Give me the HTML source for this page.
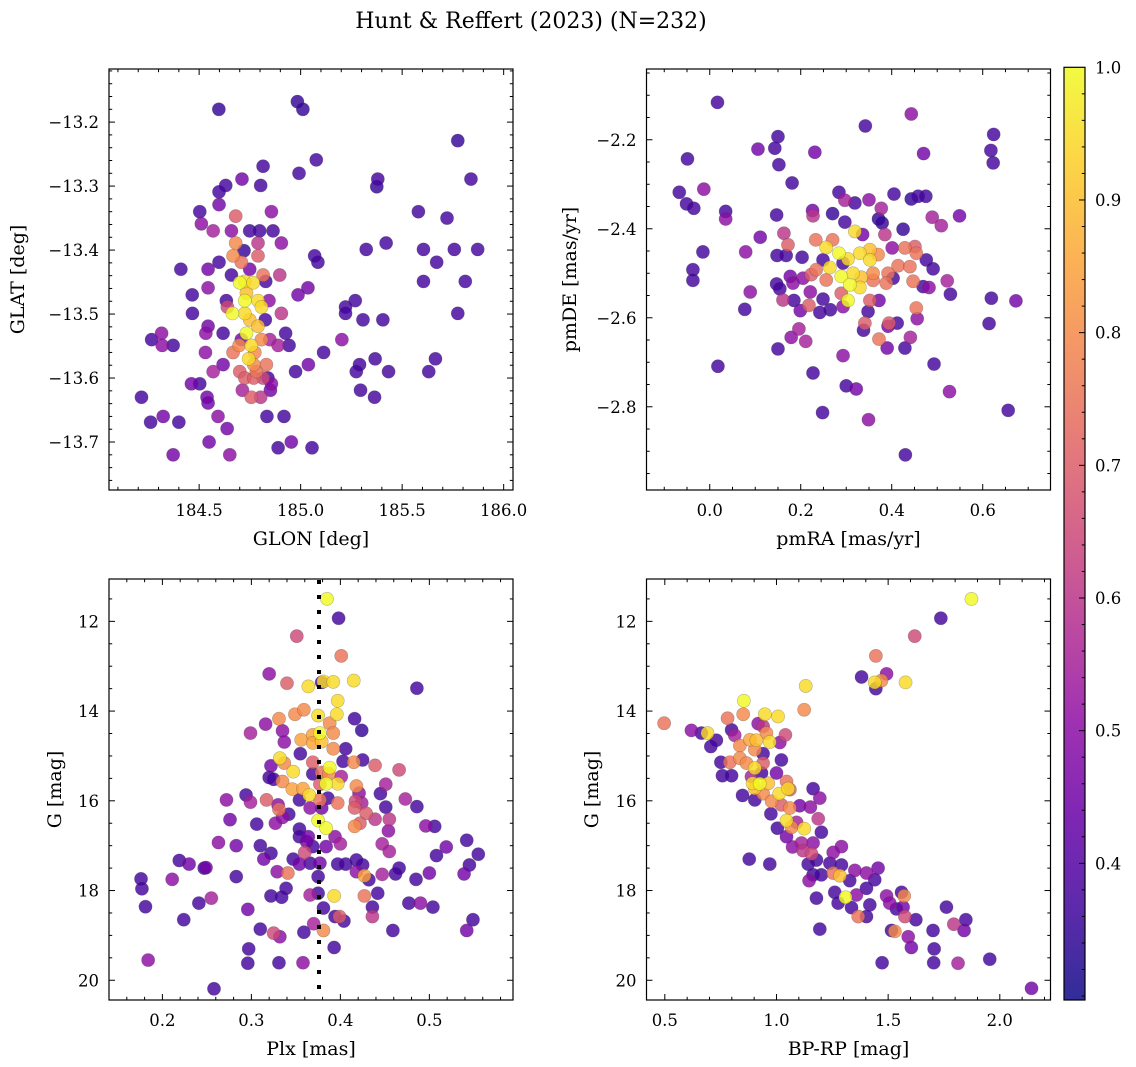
<!DOCTYPE html>
<html><head><meta charset="utf-8"><title>Hunt & Reffert (2023)</title>
<style>
html,body{margin:0;padding:0;background:#fff;}
svg{display:block;font-family:"DejaVu Serif","Liberation Serif",serif;}
</style></head>
<body>
<svg id="fig" width="1136" height="1067" viewBox="0 0 1136 1067" xmlns="http://www.w3.org/2000/svg">
<rect width="1136" height="1067" fill="#fff"/>
<text x="531" y="28" text-anchor="middle" font-size="22">Hunt &amp; Reffert (2023) (N=232)</text>
</svg>
<script>
// ---------- Panel 1: GLON vs GLAT ----------
const p1X=[184.597,184.984,185.011,185.774,185.077,184.815,184.992,185.380,185.375,185.839,184.711,184.631,184.598,184.803,184.598,184.503,184.856,185.580,185.721,184.511,184.569,184.680,184.659,184.749,184.798,184.864,184.905,184.790,184.680,184.667,184.721,184.708,184.790,185.069,185.085,185.323,185.421,185.605,185.757,185.872,185.670,184.410,184.544,184.598,184.659,184.749,184.815,184.897,184.828,184.725,184.700,184.766,184.544,185.036,184.987,185.605,185.811,184.466,184.634,184.725,184.790,184.844,184.639,184.807,184.733,184.467,184.664,184.725,184.905,184.826,184.749,184.790,185.221,185.221,185.269,185.307,185.405,185.774,184.544,184.533,184.618,184.733,184.926,184.315,184.266,184.318,184.372,184.708,184.807,184.848,184.889,184.943,184.757,184.667,184.697,184.774,184.531,185.113,185.203,184.744,184.769,184.831,184.618,184.569,184.700,184.782,184.975,185.038,185.290,185.274,185.367,185.433,185.664,185.631,184.725,184.769,184.815,184.839,184.462,184.503,184.856,184.713,184.757,184.803,184.851,184.539,184.544,184.216,185.295,185.364,184.261,184.323,184.400,184.593,184.834,184.918,184.638,184.549,184.954,184.889,185.056,184.372,184.651];
const p1Y=[-13.180,-13.168,-13.180,-13.229,-13.259,-13.269,-13.280,-13.289,-13.301,-13.289,-13.289,-13.299,-13.309,-13.299,-13.329,-13.340,-13.340,-13.340,-13.350,-13.359,-13.370,-13.347,-13.370,-13.370,-13.370,-13.370,-13.389,-13.389,-13.389,-13.409,-13.401,-13.419,-13.409,-13.409,-13.419,-13.399,-13.389,-13.399,-13.399,-13.399,-13.419,-13.430,-13.430,-13.419,-13.439,-13.430,-13.439,-13.439,-13.449,-13.449,-13.451,-13.451,-13.459,-13.459,-13.470,-13.449,-13.449,-13.470,-13.479,-13.479,-13.479,-13.479,-13.489,-13.489,-13.467,-13.499,-13.499,-13.499,-13.499,-13.509,-13.509,-13.519,-13.489,-13.499,-13.479,-13.509,-13.509,-13.499,-13.519,-13.530,-13.530,-13.530,-13.530,-13.530,-13.540,-13.549,-13.549,-13.540,-13.540,-13.540,-13.549,-13.549,-13.549,-13.560,-13.549,-13.560,-13.560,-13.560,-13.540,-13.570,-13.579,-13.579,-13.579,-13.590,-13.590,-13.590,-13.590,-13.579,-13.579,-13.590,-13.570,-13.590,-13.570,-13.590,-13.600,-13.600,-13.600,-13.600,-13.609,-13.609,-13.609,-13.619,-13.630,-13.630,-13.619,-13.630,-13.639,-13.630,-13.619,-13.630,-13.669,-13.660,-13.669,-13.660,-13.660,-13.660,-13.679,-13.700,-13.700,-13.709,-13.709,-13.720,-13.720];
const p1P=[.35,.35,.35,.35,.37,.37,.37,.37,.35,.37,.45,.37,.37,.37,.45,.37,.5,.37,.37,.5,.55,.7,.5,.37,.37,.37,.5,.6,.8,.8,.35,.75,.7,.37,.37,.37,.37,.37,.37,.37,.37,.37,.45,.37,.37,.45,.75,.6,.37,.95,1,.95,.5,.45,.45,.37,.37,.37,.37,1,.95,.5,.65,.95,.9,.37,1,.95,.6,.37,.9,.9,.37,.37,.37,.37,.37,.37,.45,.5,.37,1,.37,.5,.37,.5,.37,.45,.8,.55,.55,.37,.95,.75,.8,.8,.5,.37,.5,.95,.8,.75,.45,.55,.7,.75,.37,.45,.37,.37,.37,.37,.37,.37,.7,.7,.65,.37,.45,.37,.5,.55,.7,.6,.45,.45,.45,.37,.37,.37,.37,.45,.37,.5,.37,.37,.45,.45,.45,.37,.37,.45,.5];
const p1XTicks=[184.5,185.0,185.5,186.0];
const p1YTicks=[-13.2,-13.3,-13.4,-13.5,-13.6,-13.7];

// ---------- Panel 2: pmRA vs pmDE ----------
const p2X=[0.017,0.443,0.342,0.624,0.150,0.106,0.143,0.231,0.470,0.618,0.623,-0.049,0.152,0.181,-0.067,-0.013,-0.051,-0.035,0.035,0.035,0.284,0.297,0.319,0.350,0.405,0.443,0.458,0.475,0.377,0.147,0.226,0.227,0.270,0.371,0.379,0.489,0.509,0.549,0.297,0.319,0.425,0.385,0.336,0.111,0.163,0.172,0.233,0.270,0.256,0.284,0.304,0.330,0.352,0.352,0.370,0.401,0.429,0.451,0.454,-0.015,0.079,0.148,0.168,0.203,0.234,0.264,0.249,0.293,0.315,0.289,0.333,0.359,0.392,0.414,0.440,0.476,0.491,-0.037,-0.037,0.177,0.147,0.154,0.183,0.205,0.223,0.256,0.308,0.330,0.359,0.388,0.447,0.403,0.469,0.482,0.522,0.529,0.089,0.221,0.249,0.265,0.218,0.242,0.199,0.185,0.161,0.077,0.289,0.304,0.293,0.352,0.372,0.348,0.619,0.673,0.341,0.338,0.394,0.412,0.454,0.456,0.392,0.196,0.179,0.211,0.372,0.441,0.150,0.390,0.429,0.614,0.293,0.493,0.018,0.227,0.300,0.322,0.527,0.248,0.349,0.656,0.430];
const p2Y=[-2.116,-2.142,-2.169,-2.188,-2.193,-2.221,-2.219,-2.228,-2.231,-2.224,-2.252,-2.243,-2.256,-2.297,-2.318,-2.311,-2.344,-2.354,-2.361,-2.378,-2.318,-2.336,-2.342,-2.335,-2.322,-2.333,-2.327,-2.327,-2.354,-2.369,-2.359,-2.371,-2.366,-2.378,-2.387,-2.374,-2.393,-2.371,-2.385,-2.406,-2.401,-2.413,-2.413,-2.419,-2.410,-2.436,-2.425,-2.425,-2.442,-2.455,-2.468,-2.455,-2.447,-2.470,-2.458,-2.443,-2.443,-2.440,-2.455,-2.452,-2.452,-2.460,-2.460,-2.464,-2.492,-2.487,-2.470,-2.477,-2.500,-2.507,-2.509,-2.500,-2.500,-2.483,-2.485,-2.470,-2.490,-2.492,-2.516,-2.507,-2.524,-2.535,-2.522,-2.511,-2.503,-2.515,-2.526,-2.532,-2.516,-2.522,-2.518,-2.511,-2.530,-2.532,-2.517,-2.547,-2.542,-2.542,-2.558,-2.582,-2.572,-2.588,-2.584,-2.561,-2.560,-2.581,-2.545,-2.561,-2.575,-2.561,-2.561,-2.586,-2.556,-2.562,-2.612,-2.628,-2.612,-2.612,-2.578,-2.602,-2.619,-2.625,-2.644,-2.653,-2.648,-2.644,-2.670,-2.668,-2.668,-2.613,-2.685,-2.704,-2.709,-2.724,-2.753,-2.760,-2.766,-2.813,-2.829,-2.808,-2.908];
const p2P=[.37,.5,.37,.37,.37,.45,.37,.45,.45,.37,.37,.37,.37,.37,.37,.5,.37,.37,.37,.5,.37,.55,.37,.5,.37,.35,.37,.37,.55,.37,.45,.6,.35,.35,.35,.55,.55,.45,.37,.95,.35,.6,.45,.45,.6,.7,.75,.75,.95,1,.95,.95,.9,.95,.8,.5,.75,.7,.75,.37,.5,.37,.37,.37,.75,.95,.37,.37,.95,1,.9,.8,.75,.75,.75,.37,.37,.37,.37,.45,.37,.37,.5,.5,.7,.75,1,.95,.75,.75,.75,.37,.37,.5,.55,.37,.5,.5,.37,.37,.7,.37,.45,.37,.6,.37,.7,1,.5,.7,.45,.37,.37,.45,.7,.37,.7,.37,.75,.5,.45,.55,.5,.55,.75,.55,.37,.45,.37,.37,.5,.37,.37,.37,.37,.45,.5,.37,.5,.37,.37];
const p2XTicks=[0.0,0.2,0.4,0.6];
const p2YTicks=[-2.2,-2.4,-2.6,-2.8];

// ---------- Panel 3: Plx vs G ----------
const p3X=[0.385,0.398,0.351,0.401,0.320,0.340,0.364,0.379,0.381,0.392,0.415,0.486,0.397,0.375,0.396,0.331,0.349,0.359,0.388,0.416,0.316,0.335,0.299,0.337,0.424,0.356,0.369,0.377,0.392,0.369,0.379,0.392,0.406,0.355,0.332,0.337,0.322,0.369,0.388,0.403,0.415,0.425,0.439,0.466,0.347,0.320,0.325,0.335,0.369,0.379,0.387,0.384,0.397,0.401,0.418,0.451,0.346,0.358,0.365,0.377,0.294,0.421,0.445,0.272,0.299,0.317,0.330,0.354,0.377,0.386,0.397,0.417,0.424,0.473,0.486,0.331,0.342,0.366,0.379,0.416,0.429,0.451,0.276,0.306,0.327,0.335,0.375,0.384,0.416,0.422,0.439,0.455,0.496,0.506,0.354,0.354,0.364,0.394,0.400,0.454,0.263,0.283,0.310,0.322,0.362,0.369,0.384,0.447,0.455,0.519,0.508,0.555,0.542,0.219,0.230,0.247,0.249,0.314,0.347,0.354,0.360,0.366,0.377,0.397,0.406,0.418,0.425,0.418,0.427,0.432,0.466,0.462,0.447,0.485,0.500,0.545,0.539,0.176,0.177,0.211,0.283,0.329,0.341,0.375,0.339,0.322,0.334,0.366,0.375,0.393,0.427,0.442,0.255,0.241,0.181,0.296,0.381,0.436,0.477,0.490,0.504,0.394,0.399,0.404,0.436,0.224,0.549,0.370,0.310,0.325,0.332,0.359,0.381,0.459,0.542,0.393,0.297,0.184,0.296,0.331,0.358,0.258];
const p3Y=[11.50,11.93,12.33,12.77,13.17,13.38,13.45,13.36,13.34,13.35,13.32,13.49,13.77,14.10,14.07,14.17,14.07,13.97,14.27,14.17,14.29,14.44,14.49,14.69,14.43,14.64,14.53,14.49,14.49,14.71,14.68,14.84,14.84,14.95,15.05,15.16,15.22,15.14,15.26,15.12,15.14,15.09,15.21,15.31,15.35,15.48,15.52,15.57,15.40,15.37,15.40,15.62,15.62,15.46,15.67,15.63,15.74,15.73,15.87,15.63,15.87,15.83,15.84,15.98,16.03,15.98,16.09,15.98,15.98,15.94,16.05,16.01,16.05,15.96,16.13,16.19,16.30,16.16,16.16,16.16,16.28,16.14,16.42,16.52,16.50,16.37,16.44,16.61,16.57,16.50,16.41,16.41,16.56,16.57,16.63,16.80,16.80,16.80,16.96,16.67,16.93,17.00,17.00,17.17,16.91,17.02,17.02,16.96,17.13,17.03,17.22,17.19,16.88,17.33,17.41,17.50,17.49,17.30,17.30,17.41,17.15,17.39,17.39,17.41,17.41,17.32,17.43,17.58,17.67,17.76,17.50,17.63,17.64,17.75,17.61,17.43,17.63,17.74,17.96,17.75,17.69,17.58,17.61,17.69,17.95,18.12,18.15,18.10,18.06,18.12,18.12,18.06,18.17,18.28,18.36,18.42,18.39,18.37,18.28,18.28,18.37,18.58,18.58,18.68,18.58,18.65,18.65,18.74,18.86,18.95,19.03,18.93,18.89,18.89,18.89,19.27,19.30,19.55,19.62,19.61,19.61,20.19];
const p3P=[1,.37,.65,.75,.5,.7,.95,.37,.95,.95,.95,.37,.95,.95,.95,.8,.8,.8,.8,.37,.5,.5,.55,.5,.35,.85,.85,1,.8,.85,.9,.8,.37,.37,.95,.8,.45,.7,1,.37,.8,.37,.7,.65,.95,.37,.37,.8,.37,.75,.8,1,.95,.55,.8,.55,.85,.85,.95,.7,.37,.5,.37,.5,.55,.7,.5,.37,.75,.37,.75,.65,.55,.55,.37,.75,.37,.5,.45,.7,.7,.37,.45,.37,.5,.5,1,1,.8,.7,.6,.6,.5,.37,.37,.37,.45,.5,.55,.5,.5,.45,.37,.37,.45,.37,.45,.55,.55,.45,.37,.37,.37,.37,.45,.37,.45,.45,.37,.45,.65,.37,.45,.37,.37,.37,.37,.5,.85,.37,.37,.37,.55,.37,.45,.37,.45,.37,.37,.5,.37,.5,.75,.37,.37,.37,.37,.55,.37,.95,.75,.37,.55,.37,.37,.45,.37,.37,.37,.5,.37,.37,.7,.37,.6,.37,.37,.55,.37,.65,.5,.37,.8,.37,.45,.37,.37,.5,.37,.37,.5];
const p3XTicks=[0.2,0.3,0.4,0.5];
const gTicks=[12,14,16,18,20];
const plxRef=[0.376];

// ---------- Panel 4: BP-RP vs G ----------
const p4X=[1.873,1.736,1.619,1.445,1.381,1.493,1.440,1.470,1.445,1.578,1.131,1.124,0.854,0.851,0.948,1.007,0.781,0.497,0.619,0.664,0.691,0.731,0.706,0.799,0.813,0.918,0.940,0.955,1.040,1.015,0.881,0.910,0.970,0.836,0.903,0.940,1.022,0.751,0.791,0.836,0.866,0.903,0.940,0.758,0.799,0.888,0.933,1.000,0.893,0.925,0.963,1.045,0.903,1.012,1.052,0.940,1.060,0.848,0.903,0.978,1.164,1.194,1.022,1.060,1.104,1.152,0.975,1.045,1.067,1.090,1.187,1.124,1.004,1.201,1.045,1.072,1.112,1.164,1.291,1.119,1.157,1.254,0.878,0.970,1.142,1.179,1.239,1.291,1.351,1.455,1.164,1.201,1.254,1.284,1.146,1.328,1.403,1.440,1.261,1.309,1.358,1.403,1.179,1.276,1.336,1.418,1.493,1.560,1.572,1.507,1.537,1.567,1.366,1.403,1.575,1.624,1.761,1.848,1.794,1.194,1.515,1.530,1.590,1.604,1.701,1.840,1.706,1.473,1.704,1.813,1.955,2.142];
const p4Y=[11.50,11.93,12.33,12.77,13.24,13.17,13.36,13.32,13.50,13.36,13.44,13.97,13.77,14.07,14.07,14.12,14.16,14.27,14.43,14.49,14.49,14.65,14.79,14.42,14.54,14.28,14.34,14.49,14.53,14.70,14.64,14.65,14.69,14.77,14.86,14.95,15.09,15.14,15.14,15.05,15.16,15.27,15.16,15.44,15.44,15.46,15.38,15.38,15.61,15.62,15.61,15.57,15.72,15.84,15.73,15.84,15.75,15.88,15.98,16.01,15.73,15.94,16.09,16.16,16.11,16.14,16.29,16.44,16.59,16.48,16.40,16.62,16.61,16.70,16.80,17.03,16.94,16.94,17.02,17.11,17.18,17.15,17.30,17.41,17.41,17.32,17.39,17.43,17.55,17.50,17.65,17.65,17.61,17.67,17.78,17.78,17.61,17.76,18.04,18.15,18.10,17.95,18.17,18.28,18.38,18.32,18.12,18.04,18.12,18.28,18.41,18.37,18.58,18.58,18.58,18.65,18.37,18.65,18.75,18.86,18.89,18.91,19.03,19.27,18.89,18.89,19.30,19.61,19.61,19.62,19.53,20.18];
const p4P=[1,.37,.65,.75,.37,.5,.95,.8,.37,.95,.95,.8,1,.8,.95,.95,.75,.75,.5,.37,.95,.37,.37,.37,.55,.5,.6,.8,.65,.5,.85,.9,.95,.8,.8,.37,.37,.37,.75,.8,.8,.95,.7,.37,.37,.55,.37,.45,.95,1,.9,.75,.9,.95,.95,.8,.7,.37,.37,.8,.37,.5,.7,.8,.45,.5,.37,.95,.8,.55,.6,.95,.37,.37,.45,.5,.55,.5,.5,.6,.65,.5,.37,.37,.37,.37,.37,.37,.5,.45,.37,.37,.75,.9,.5,.37,.5,.37,.37,1,.5,.37,.37,.37,.37,.37,.5,.37,.8,.5,.37,.45,.75,.37,.65,.37,.37,.37,.6,.37,.37,.8,.5,.45,.37,.45,.37,.37,.37,.55,.37,.45];
const p4XTicks=[0.5,1.0,1.5,2.0];

// ---------- Colorbar ----------
const cbTicks=[0.4,0.5,0.6,0.7,0.8,0.9,1.0];
const cbMin=0.297, cbMax=1.0;

const NS="http://www.w3.org/2000/svg";
const svg=document.getElementById('fig');
const stops=[[13,8,135],[65,4,157],[106,0,168],[143,13,164],[177,42,144],[204,71,120],[225,100,98],[242,132,75],[252,166,54],[252,206,37],[240,249,33]];
function cmap(p){
  if(typeof p!=='number'||isNaN(p)) p=0.37;
  let t=(p-cbMin)/(cbMax-cbMin); t=Math.max(0,Math.min(1,t));
  const f=t*10, i=Math.min(9,Math.floor(f)), r=f-i;
  const a=stops[i], b=stops[i+1];
  return 'rgb('+a.map((v,k)=>Math.round(v+(b[k]-v)*r)).join(',')+')';
}
function el(tag,attrs,parent){
  const e=document.createElementNS(NS,tag);
  for(const k in attrs) e.setAttribute(k,attrs[k]);
  (parent||svg).appendChild(e); return e;
}
function fmt(v,d){ const s=Math.abs(v).toFixed(d); return (v<0?'\u2212':'')+s; }

function panel(c){
  const g=el('g',{});
  
  
  const sx=v=>c.L+(v-c.x0)/(c.x1-c.x0)*(c.R-c.L);
  const sy=v=>c.B-(v-c.y0)/(c.y1-c.y0)*(c.B-c.T);
  const n=Math.min(c.xs.length,c.ys.length);
  const pv=i=>(typeof c.ps[i]==='number'?c.ps[i]:0.37);
  const idx=[]; for(let i=0;i<n;i++) idx.push(i);
  idx.sort((a,b)=>pv(a)-pv(b));
  const pg=el('g',{},g);
  
  
  idx.forEach(i=>{
    const cx=sx(c.xs[i]), cy=sy(c.ys[i]);
    if(cx<c.L-8||cx>c.R+8||cy<c.T-8||cy>c.B+8) return;
    const p=el('circle',{cx:cx,cy:cy,r:6.6,fill:cmap(pv(i)),'fill-opacity':0.82,stroke:'rgba(60,60,60,0.35)','stroke-width':0.6},pg);
    
    
  });
  if(c.vline){
    c.vline.forEach(v=>{
      const l=el('line',{x1:sx(v),x2:sx(v),y1:c.T+1,y2:c.B,stroke:'#000','stroke-width':4,'stroke-dasharray':'4 11'},g);
      
      
    });
  }
  const tg=el('g',{stroke:'#000','stroke-width':1},g);
  
  
  const e=1e-6;
  for(let v=Math.ceil(c.x0/c.xm)*c.xm; v<=c.x1+e; v+=c.xm){
    const major=c.xt.some(t=>Math.abs(t-v)<c.xm/4), len=major?6:3.2, x=sx(v);
    el('line',{x1:x,x2:x,y1:c.B,y2:c.B-len},tg); el('line',{x1:x,x2:x,y1:c.T,y2:c.T+len},tg);
  }
  const ylo=Math.min(c.y0,c.y1), yhi=Math.max(c.y0,c.y1);
  for(let v=Math.ceil(ylo/c.ym)*c.ym; v<=yhi+e; v+=c.ym){
    const major=c.yt.some(t=>Math.abs(t-v)<c.ym/4), len=major?6:3.2, y=sy(v);
    el('line',{x1:c.L,x2:c.L+len,y1:y,y2:y},tg); el('line',{x1:c.R,x2:c.R-len,y1:y,y2:y},tg);
  }
  const fr=el('rect',{x:c.L,y:c.T,width:c.R-c.L,height:c.B-c.T,fill:'none',stroke:'#000','stroke-width':1.2},g);
  
  
  c.xt.forEach(v=>{
    const t=el('text',{x:sx(v),y:c.B+26,'text-anchor':'middle','font-size':16.5},g);
    t.textContent=fmt(v,c.xd);
    
    
  });
  c.yt.forEach(v=>{
    const t=el('text',{x:c.L-10,y:sy(v)+6,'text-anchor':'end','font-size':16.5},g);
    t.textContent=fmt(v,c.yd);
    
    
  });
  const xl=el('text',{x:(c.L+c.R)/2,y:c.B+55,'text-anchor':'middle','font-size':19},g);
  xl.textContent=c.xlabel;
  
  
  const ym=(c.T+c.B)/2;
  const yl=el('text',{x:c.ylx,y:ym,'text-anchor':'middle','font-size':19,transform:'rotate(-90 '+c.ylx+' '+ym+')'},g);
  yl.textContent=c.ylabel;
  
  
}

panel({name:'sky-position-panel',L:109,R:513,T:69,B:490,x0:184.056,x1:186.046,y0:-13.775,y1:-13.117,xs:p1X,ys:p1Y,ps:p1P,xt:p1XTicks,yt:p1YTicks,xm:0.1,ym:0.02,xd:1,yd:1,xlabel:'GLON [deg]',ylabel:'GLAT [deg]',ylx:24});
panel({name:'proper-motion-panel',L:646.5,R:1050.5,T:69,B:490,x0:-0.139,x1:0.749,y0:-2.987,y1:-2.041,xs:p2X,ys:p2Y,ps:p2P,xt:p2XTicks,yt:p2YTicks,xm:0.05,ym:0.05,xd:1,yd:1,xlabel:'pmRA [mas/yr]',ylabel:'pmDE [mas/yr]',ylx:576});
panel({name:'parallax-panel',L:109,R:513,T:579,B:1000,x0:0.140,x1:0.594,y0:20.44,y1:11.056,xs:p3X,ys:p3Y,ps:p3P,xt:p3XTicks,yt:gTicks,xm:0.02,ym:0.5,xd:1,yd:0,xlabel:'Plx [mas]',ylabel:'G [mag]',ylx:61,vline:plxRef});
panel({name:'cmd-panel',L:646.5,R:1050.5,T:579,B:1000,x0:0.418,x1:2.227,y0:20.44,y1:11.056,xs:p4X,ys:p4Y,ps:p4P,xt:p4XTicks,yt:gTicks,xm:0.1,ym:0.5,xd:1,yd:0,xlabel:'BP-RP [mag]',ylabel:'G [mag]',ylx:598});

(function(){
  const L=1064,R=1085,T=67.3,B=1000;
  const cg=el('g',{});
  
  
  const defs=el('defs',{},cg);
  const lg=el('linearGradient',{id:'cbg',x1:0,y1:1,x2:0,y2:0},defs);
  for(let k=0;k<=20;k++){ const p=cbMin+(cbMax-cbMin)*k/20; el('stop',{offset:(k/20),'stop-color':cmap(p),'stop-opacity':0.85},lg); }
  el('rect',{x:L,y:T,width:R-L,height:B-T,fill:'url(#cbg)',stroke:'#000','stroke-width':1.2},cg);
  const sy=v=>B-(v-cbMin)/(cbMax-cbMin)*(B-T);
  for(let v=0.3;v<=1.0001;v+=0.02){
    const y=sy(v); if(y<T||y>B) continue;
    const maj=cbTicks.some(t=>Math.abs(t-v)<0.005);
    el('line',{x1:R,x2:R-(maj?6:3.2),y1:y,y2:y,stroke:'#000','stroke-width':1},cg);
  }
  cbTicks.forEach(v=>{
    const t=el('text',{x:R+10,y:sy(v)+6,'font-size':16.5},cg);
    t.textContent=v.toFixed(1);
    
    
  });
})();
</script>
</body></html>
